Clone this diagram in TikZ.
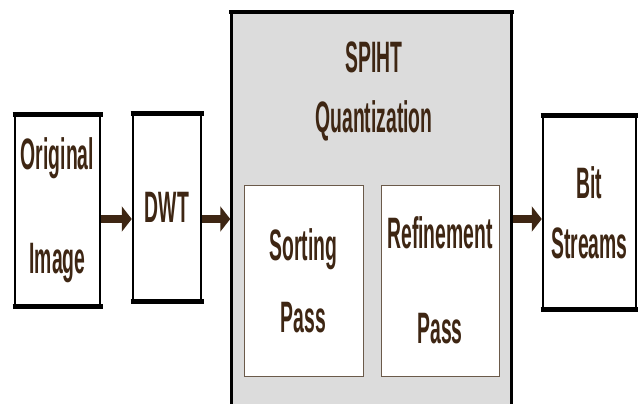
\documentclass[tikz,border=0pt]{standalone}
\usepackage{fontspec}
\newfontfamily\blockfont[FakeStretch=0.44]{Liberation Sans Bold}
\usetikzlibrary{arrows.meta}

\definecolor{inkbrown}{HTML}{3E2613}
\definecolor{panelgray}{HTML}{DCDCDC}
\definecolor{edgebrown}{HTML}{6B5A4A}

\tikzset{
  block/.style={draw=black, line width=2.5pt, fill=white, inner sep=0pt,
    text=inkbrown, align=center, font=\blockfont\fontsize{44}{44}\selectfont},
  passbox/.style={block, draw=edgebrown, line width=1pt},
  flow/.style={-{Triangle[length=10pt,width=25pt]}, line width=8pt, draw=inkbrown},
}

\begin{document}
\begin{tikzpicture}[x=1pt, y=-1pt]
    \useasboundingbox (0,0) rectangle (638,404);
    \clip (0,0) rectangle (638,404);

    % quantizer panel
    \node[block, fill=panelgray, minimum width=280pt, minimum height=410pt] (spiht) at (371.5,218) {};
    \draw[line width=4pt] ([xshift=-1.25pt]spiht.north west) -- ([xshift=1.25pt]spiht.north east);
    \node[text=inkbrown, align=center, font=\blockfont\fontsize{44}{44}\selectfont] (title) at (374,91)
        {SPIHT\\[16pt]Quantization};

    \node[passbox, minimum width=119pt, minimum height=191pt] (sort) at (303.5,280.5)
        {Sorting\\[28pt]Pass};
    \node[passbox, minimum width=118pt, minimum height=191pt] (refine) at (440,280.5)
        {Refinement\\[51pt]Pass};

    % outer blocks
    \node[block, minimum width=85pt, minimum height=190pt] (orig) at (57.5,210.5)
        {Original\\[60pt]Image};
    \node[block, minimum width=68pt, minimum height=186pt] (dwt) at (167,207.5) {DWT};
    \node[block, minimum width=93pt, minimum height=192pt] (bits) at (589.5,212.5)
        {Bit\\[16pt]Streams};

    \foreach \b in {orig,dwt,bits} {
        \draw[line width=5pt] ([xshift=-1.25pt]\b.north west) -- ([xshift=1.25pt]\b.north east);
        \draw[line width=5pt] ([xshift=-1.25pt]\b.south west) -- ([xshift=1.25pt]\b.south east);
    }

    % arrows
    \draw[flow] ([yshift=-8.5pt]orig.east) -- ([yshift=-11.5pt]dwt.west);
    \draw[flow] ([yshift=-11.5pt]dwt.east) -- ([yshift=-11.5pt]dwt.east -| spiht.west);
    \draw[flow] ([yshift=-6.5pt]bits.west -| spiht.east) -- ([yshift=-6.5pt]bits.west);
\end{tikzpicture}
\end{document}
